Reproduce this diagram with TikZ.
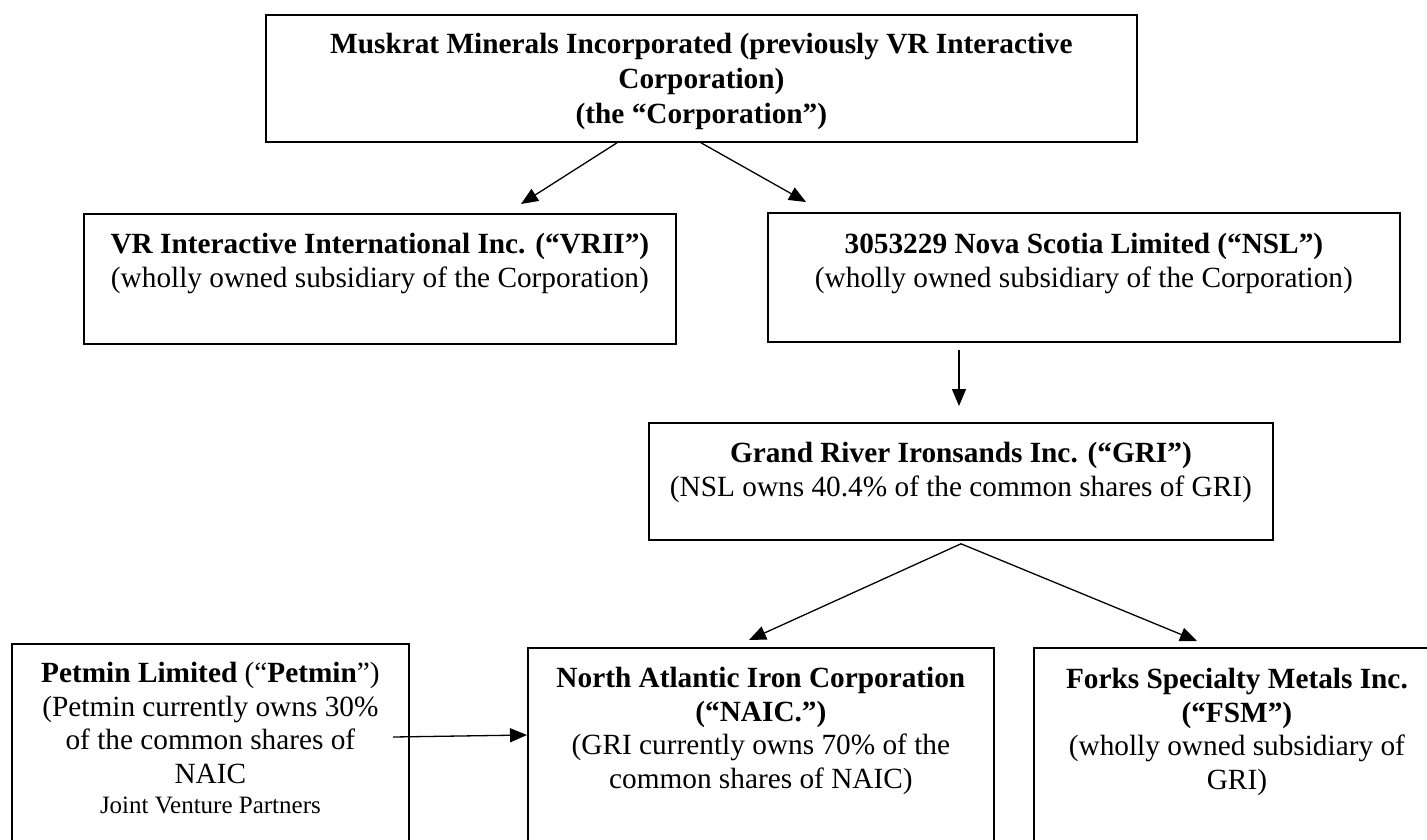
\documentclass[tikz,border=0pt]{standalone}
\usepackage{fontspec}
\setmainfont{Liberation Serif}
\usetikzlibrary{arrows.meta,calc}
\begin{document}
\begin{tikzpicture}[x=1pt,y=-1pt,
  box/.style={draw, line width=1.8pt, anchor=north west, inner sep=0pt},
  txt/.style={anchor=north, align=center, inner sep=0pt, font=\fontsize{29.3}{34}\selectfont},
  conn/.style={line width=1.3pt, -{Triangle[length=17pt,width=14pt]}}]
\useasboundingbox (0,0) rectangle (1427,840);
% boxes
\node[box, minimum width=871pt, minimum height=127pt] (corp) at (265,14) {};
\node[box, minimum width=592pt, minimum height=130pt] (vrii) at (83,213) {};
\node[box, minimum width=632pt, minimum height=129pt] (nsl) at (767,212) {};
\node[box, minimum width=624pt, minimum height=117pt] (gri) at (648,422) {};
\node[box, minimum width=397pt, minimum height=220pt] (petmin) at (11,643) {};
\node[box, minimum width=466pt, minimum height=220pt] (naic) at (527,647) {};
\node[box, minimum width=406pt, minimum height=220pt] (fsm) at (1033,647) {};
% texts
\node[txt, font=\fontsize{29.3}{35}\selectfont] (corpt) at ($(corp.north)+(0,19)$) {\textbf{Muskrat Minerals Incorporated (previously VR Interactive}\\\textbf{Corporation)}\\\textbf{(the “Corporation”)}};
\node[txt] (vriit) at ($(vrii.north)+(0,20)$) {\textbf{VR Interactive International Inc. (“VRII”)}\\(wholly owned subsidiary of the Corporation)};
\node[txt] (nslt) at ($(nsl.north)+(0,21)$) {\textbf{3053229 Nova Scotia Limited (“NSL”)}\\(wholly owned subsidiary of the Corporation)};
\node[txt, font=\fontsize{29.3}{33.5}\selectfont] (grit) at ($(gri.north)+(0,20)$) {\textbf{Grand River Ironsands Inc. (“GRI”)}\\(NSL owns 40.4\% of the common shares of GRI)};
\node[txt, font=\fontsize{29.3}{33.5}\selectfont] (petmint) at ($(petmin.north)+(0,19)$) {\textbf{Petmin Limited} (“\textbf{Petmin}”)\\(Petmin currently owns 30\%\\of the common shares of\\NAIC\\[-3pt]{\fontsize{25}{30}\selectfont Joint Venture Partners}};
\node[txt, font=\fontsize{29.3}{33.5}\selectfont] (naict) at ($(naic.north)+(0,20)$) {\textbf{North Atlantic Iron Corporation}\\\textbf{(“NAIC.”)}\\(GRI currently owns 70\% of the\\common shares of NAIC)};
\node[txt, font=\fontsize{29.3}{33.5}\selectfont] (fsmt) at ($(fsm.north)+(0,21)$) {\textbf{Forks Specialty Metals Inc.}\\\textbf{(“FSM”)}\\(wholly owned subsidiary of\\GRI)};
% connectors
\draw[conn] ($(corp.south west)+(352,0)$) -- ($(vrii.north west)+(438,-9)$);
\draw[conn] ($(corp.south west)+(436,0)$) -- ($(nsl.north west)+(39,-10)$);
\draw[conn] ($(nsl.south west)+(192,7)$) -- ($(gri.north west)+(311,-16)$);
\draw[conn] ($(gri.south west)+(313,3)$) -- ($(naic.north west)+(222,-7)$);
\draw[conn] ($(gri.south west)+(313,3)$) -- ($(fsm.north west)+(164,-6)$);
\draw[conn] ($(petmin.north west)+(382,94)$) -- ($(naic.north west)+(0,88)$);
\end{tikzpicture}
\end{document}
